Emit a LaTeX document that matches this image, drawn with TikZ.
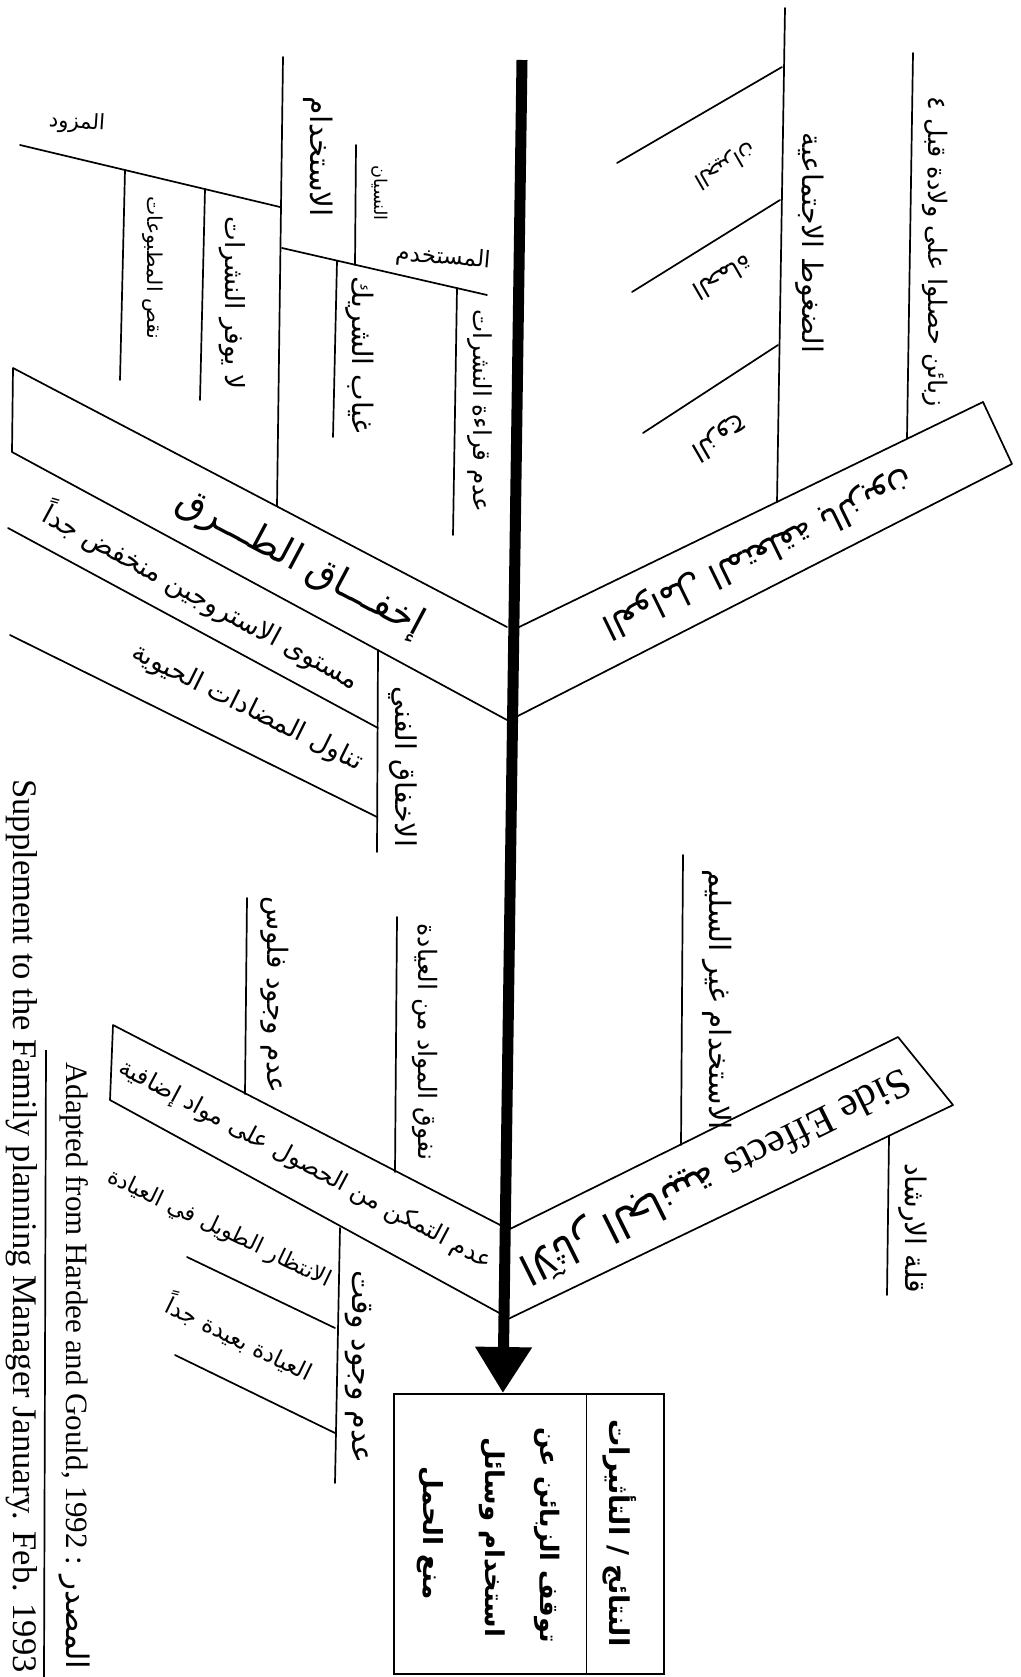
\documentclass[tikz,border=0pt]{standalone}
\usepackage{fontspec}
\usepackage{graphicx}
\setmainfont{Liberation Serif}
\newfontfamily\arabicfont[Script=Arabic]{DejaVu Sans}
\TeXXeTstate=1
\usetikzlibrary{arrows.meta,calc}
\newcommand{\fit}[2]{\resizebox{#1pt}{!}{#2}}
\begin{document}
\begin{tikzpicture}[x=1pt,y=-1pt,
  bone/.style={line width=1.7pt, line cap=round, line join=round},
  spine/.style={line width=11pt, -{Triangle[width=54pt,length=46pt]}},
  lbl/.style={inner sep=0pt, outer sep=0pt, anchor=center},
  vlbl/.style={lbl, rotate=-90}]
\fill[white] (0,0) rectangle (1020,1677);
\useasboundingbox (0,0) rectangle (1020,1677);

% ---------- result box and spine ----------
\node[draw, line width=2pt, minimum width=270pt, minimum height=280pt, inner sep=0pt, anchor=north west] (result) at (393,1393) {};
\coordinate (tip) at ($(result.north west)!0.404!(result.north east)$);
\coordinate (spinetop) at (522,60);
\draw[spine] (spinetop) -- (tip);
\coordinate (divtop) at ($(result.north west)!0.711!(result.north east)$);
\coordinate (divbot) at ($(result.south west)!0.711!(result.south east)$);
\draw[line width=1.8pt] (divtop) -- (divbot);
\node[vlbl] (res1) at (620,1533) {\fit{227}{\arabicfont\bfseries\beginR النتائج / التأثيرات\endR}};
\node[vlbl] (res2) at (547,1535) {\fit{216}{\arabicfont\bfseries\beginR توقف الزبائن عن\endR}};
\node[vlbl] (res3) at (492,1537) {\fit{200}{\arabicfont\bfseries\beginR استخدام وسائل\endR}};
\node[vlbl] (res4) at (430,1533) {\fit{133}{\arabicfont\bfseries\beginR منع الحمل\endR}};

% ---------- upper-right category ----------
\coordinate (ur1) at (513,630);
\coordinate (ur2) at (983,402);
\coordinate (ur3) at (1012,464);
\coordinate (ur4) at (510,720);
\draw[bone] (ur1) -- (ur2) -- (ur3) -- (ur4);
\node[lbl, rotate=206] (urt) at (758,553) {\fit{342}{\arabicfont\beginR العوامل المتعلقة بالزبون\endR}};

\coordinate (dh1) at (785,8);
\coordinate (dh2) at (777,502);
\draw[bone] (dh1) -- (dh2);
\node[vlbl] (dht) at (810,243) {\fit{220}{\arabicfont\beginR الضغوط الاجتماعية\endR}};
\coordinate (s1a) at (782,67);  \coordinate (s1b) at (617,163);
\coordinate (s2a) at (780,200); \coordinate (s2b) at (632,292);
\coordinate (s3a) at (778,345); \coordinate (s3b) at (643,433);
\draw[bone] (s1a) -- (s1b);
\draw[bone] (s2a) -- (s2b);
\draw[bone] (s3a) -- (s3b);
\node[lbl, rotate=210] (g1) at (725,165) {\fit{68}{\arabicfont\beginR الجيران\endR}};
\node[lbl, rotate=210] (g2) at (723,278) {\fit{64}{\arabicfont\beginR الحماة\endR}};
\node[lbl, rotate=210] (g3) at (720,438) {\fit{60}{\arabicfont\beginR الزوج\endR}};

\coordinate (zb1) at (913,53);
\coordinate (zb2) at (907,438);
\draw[bone] (zb1) -- (zb2);
\node[vlbl] (zbt) at (935,252) {\fit{310}{\arabicfont\beginR زبائن حصلوا على ولادة قبل ٤\endR}};

% ---------- upper-left category ----------
\coordinate (ul1) at (507,627);
\coordinate (ul2) at (13,368);
\coordinate (ul3) at (12,452);
\coordinate (ul4) at (507,720);
\draw[bone] (ul1) -- (ul2) -- (ul3) -- (ul4);
\node[lbl, rotate=-28] (ult) at (300,563) {\fit{275}{\arabicfont\beginR إخفـــاق الطـــرق\endR}};

\coordinate (us1) at (283,57);
\coordinate (us2) at (277,506);
\draw[bone] (us1) -- (us2);
\node[vlbl] (ust) at (318,157) {\fit{120}{\arabicfont\beginR الاستخدام\endR}};

\coordinate (mz1) at (280,207);
\coordinate (mz2) at (20,145);
\draw[bone] (mz1) -- (mz2);
\node[lbl, rotate=-4] (mzt) at (77,123) {\fit{56}{\arabicfont\beginR المزود\endR}};
\coordinate (mza1) at (205,189); \coordinate (mza2) at (200,400);
\coordinate (mzb1) at (125,170); \coordinate (mzb2) at (120,380);
\draw[bone] (mza1) -- (mza2);
\draw[bone] (mzb1) -- (mzb2);
\node[vlbl] (mzat) at (232,303) {\fit{173}{\arabicfont\beginR لا يوفر النشرات\endR}};
\node[vlbl] (mzbt) at (153,268) {\fit{143}{\arabicfont\beginR نقص المطبوعات\endR}};

\coordinate (ms1) at (282,248);
\coordinate (ms2) at (487,295);
\draw[bone] (ms1) -- (ms2);
\node[lbl, rotate=-5] (mst) at (443,258) {\fit{95}{\arabicfont\beginR المستخدم\endR}};
\coordinate (ns1) at (356,145); \coordinate (ns2) at (355,265);
\draw[bone] (ns1) -- (ns2);
\node[vlbl] (nst) at (380,193) {\fit{55}{\arabicfont\beginR النسيان\endR}};
\coordinate (gs1) at (337,261); \coordinate (gs2) at (333,437);
\draw[bone] (gs1) -- (gs2);
\node[vlbl] (gst) at (360,355) {\fit{156}{\arabicfont\beginR غياب الشريك\endR}};
\coordinate (aq1) at (457,288); \coordinate (aq2) at (453,535);
\draw[bone] (aq1) -- (aq2);
\node[vlbl] (aqt) at (480,411) {\fit{203}{\arabicfont\beginR عدم قراءة النشرات\endR}};

% ---------- technical failure ----------
\coordinate (tf1) at (378,650);
\coordinate (tf2) at (377,852);
\draw[bone] (tf1) -- (tf2);
\node[vlbl] (tft) at (403,767) {\fit{160}{\arabicfont\beginR الاخفاق الفني\endR}};
\coordinate (lc1) at (8,528);  \coordinate (lc2) at (378,728);
\coordinate (ld1) at (10,635); \coordinate (ld2) at (377,817);
\draw[bone] (lc1) -- (lc2);
\draw[bone] (ld1) -- (ld2);
\node[lbl, rotate=-28.4] (lct) at (202,596) {\fit{355}{\arabicfont\beginR مستوى الاستروجين منخفض جداً\endR}};
\node[lbl, rotate=-26.4] (ldt) at (247,708) {\fit{254}{\arabicfont\beginR تناول المضادات الحيوية\endR}};

% ---------- lower-right category (side effects) ----------
\coordinate (se1) at (508,1230);
\coordinate (se2) at (898,1037);
\coordinate (se3) at (953,1105);
\coordinate (se4) at (506,1320);
\draw[bone] (se1) -- (se2) -- (se3) -- (se4);
\node[lbl, rotate=206.5] (set) at (715,1175) {\fit{431}{\arabicfont\beginR الآثار الجانبية \beginL{\rmfamily Side Effects}\endL\endR}};
\coordinate (ig1) at (683,855); \coordinate (ig2) at (681,1145);
\draw[bone] (ig1) -- (ig2);
\node[vlbl] (igt) at (717,1000) {\fit{260}{\arabicfont\beginR الاستخدام غير السليم\endR}};
\coordinate (ql1) at (889,1136); \coordinate (ql2) at (887,1295);
\draw[bone] (ql1) -- (ql2);
\node[vlbl] (qlt) at (913,1228) {\fit{130}{\arabicfont\beginR قلة الارشاد\endR}};

% ---------- lower-left category ----------
\coordinate (ll1) at (504,1227);
\coordinate (ll2) at (113,1025);
\coordinate (ll3) at (110,1100);
\coordinate (ll4) at (503,1315);
\draw[bone] (ll1) -- (ll2) -- (ll3) -- (ll4);
\node[lbl, rotate=-28] (llt) at (305,1165) {\fit{419}{\arabicfont\beginR عدم التمكن من الحصول على مواد إضافية\endR}};
\coordinate (nf1) at (397,917); \coordinate (nf2) at (395,1172);
\draw[bone] (nf1) -- (nf2);
\node[vlbl] (nft) at (425,1042) {\fit{237}{\arabicfont\beginR نفوق المواد من العيادة\endR}};
\coordinate (fl1) at (247,898); \coordinate (fl2) at (245,1094);
\draw[bone] (fl1) -- (fl2);
\node[vlbl] (flt) at (275,995) {\fit{196}{\arabicfont\beginR عدم وجود فلوس\endR}};
\coordinate (wq1) at (340,1228); \coordinate (wq2) at (335,1483);
\draw[bone] (wq1) -- (wq2);
\node[vlbl] (wqt) at (358,1367) {\fit{193}{\arabicfont\beginR عدم وجود وقت\endR}};
\coordinate (in1) at (187,1257); \coordinate (in2) at (335,1328);
\draw[bone] (in1) -- (in2);
\node[lbl, rotate=-25.6] (int) at (219,1229) {\fit{245}{\arabicfont\beginR الانتظار الطويل في العيادة\endR}};
\coordinate (ab1) at (175,1355); \coordinate (ab2) at (335,1433);
\draw[bone] (ab1) -- (ab2);
\node[lbl, rotate=-26] (abt) at (240,1337) {\fit{159}{\arabicfont\beginR العيادة بعيدة جداً\endR}};

% ---------- source ----------
\node[vlbl] (src1) at (75,1366) {\fit{607}{Adapted from Hardee and Gould, 1992 : {\arabicfont\beginR المصدر\endR}}};
\coordinate (sl1) at (46,1050); \coordinate (sl2) at (44,1677);
\draw[line width=1.7pt] (sl1) -- (sl2);
\node[vlbl] (src2) at (22,1226) {\fit{893}{Supplement to the Family planning Manager January. Feb. 1993}};
\end{tikzpicture}
\end{document}
